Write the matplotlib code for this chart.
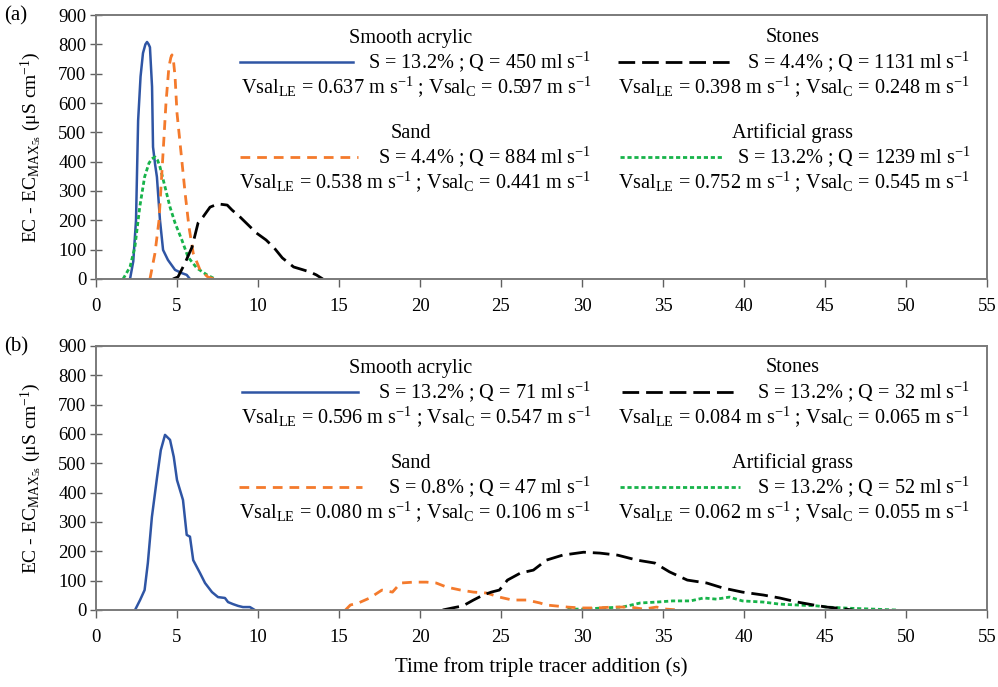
import numpy as np
import matplotlib
matplotlib.use("Agg")
import matplotlib.pyplot as plt
from matplotlib.lines import Line2D

plt.rcParams['font.family'] = ['Liberation Serif', 'DejaVu Serif']
plt.rcParams['mathtext.fontset'] = 'custom'
plt.rcParams['mathtext.rm'] = 'Liberation Serif'
plt.rcParams['mathtext.it'] = 'Liberation Serif:italic'
plt.rcParams['mathtext.bf'] = 'Liberation Serif:bold'

# ---- data ----
# panel (a)
a_acr_t = [2.1, 2.3, 2.47, 2.6, 2.75, 2.9, 3.05, 3.15, 3.25, 3.33, 3.46, 3.52, 3.65, 3.76, 3.95,
           4.14, 4.44, 4.88, 5.3, 5.6, 5.8]
a_acr_y = [0, 60, 200, 540, 690, 770, 800, 808, 800, 790, 655, 450, 390, 348, 200,
           99, 65, 31, 20, 14, 0]
a_sand_t = [3.33, 3.64, 3.89, 4.14, 4.32, 4.5, 4.62, 4.69, 4.78, 4.88, 5.0, 5.25, 5.5, 5.74, 6.0,
            6.42, 6.9, 7.3]
a_sand_y = [0, 88, 200, 430, 600, 723, 755, 764, 745, 690, 566, 430, 293, 177, 88,
            31, 7, 0]
a_grass_t = [1.67, 2.1, 2.4, 2.7, 3.0, 3.27, 3.45, 3.64, 3.8, 3.95, 4.26, 4.57, 4.88, 5.3, 5.68,
             6.23, 6.85, 7.35]
a_grass_y = [0, 41, 109, 245, 348, 395, 410, 416, 405, 382, 314, 245, 191, 133, 75,
             37, 14, 0]
a_ston_t = [4.75, 5.06, 5.5, 5.93, 6.3, 6.6, 7.04, 7.53, 8.1, 8.4, 8.9, 9.4, 9.9, 10.5, 11.0, 11.5,
            12.2, 12.8, 13.2, 13.6, 14.0]
a_ston_y = [0, 7, 55, 109, 191, 211, 245, 256, 252, 235, 211, 184, 157, 133, 106, 72,
            41, 31, 24, 14, 0]

# panel (b)
b_acr_t = [2.41, 2.72, 3.0, 3.2, 3.45, 3.77, 4.0, 4.26, 4.57, 4.8, 5.0, 5.37, 5.6, 5.8, 6.0, 6.42,
           6.73, 7.16, 7.53, 7.96, 8.15, 8.46, 8.77, 9.07, 9.5, 9.8]
b_acr_y = [0, 34, 68, 160, 317, 453, 545, 597, 580, 522, 443, 375, 256, 250, 170, 126,
           92, 61, 44, 41, 27, 20, 14, 10, 10, 0]
b_sand_t = [15.4, 15.7, 16.2, 16.9, 17.65, 18.3, 18.8, 19.6, 20.4, 21.0, 21.65, 22.5, 23.3, 24.1,
            24.9, 25.7, 26.6, 27.4, 27.8, 29.1, 29.9, 30.9, 31.9, 33.0, 33.8, 34.6, 35.2, 36.0]
b_sand_y = [0, 17, 24, 41, 68, 61, 92, 95, 95, 92, 78, 68, 61, 58,
            44, 34, 34, 24, 17, 10, 7, 7, 10, 10, 3, 10, 3, 0]
b_ston_t = [21.4, 22.0, 22.65, 23.3, 23.9, 24.4, 24.9, 25.4, 26.2, 27.0, 27.8, 28.8, 30.1, 31.1,
            32.2, 33.4, 34.5, 35.4, 36.5, 37.7, 38.7, 39.9, 41.2, 42.2, 43.3, 44.3, 45.1, 46.0, 46.7]
b_ston_y = [0, 7, 14, 34, 51, 61, 68, 102, 126, 136, 170, 187, 197, 194,
            187, 170, 160, 130, 102, 92, 75, 61, 51, 41, 27, 17, 10, 5, 0]
b_grass_t = [29.1, 30.1, 31.3, 32.5, 33.6, 34.6, 35.6, 36.7, 37.5, 38.3, 39.1, 39.9, 41.2, 42.2,
             43.3, 44.5, 45.1, 46.5, 48.0, 49.4]
b_grass_y = [3, 3, 7, 10, 24, 27, 31, 31, 41, 37, 44, 31, 27, 20,
             17, 14, 10, 6, 3, 0]

legend_a = [
    ("Smooth acrylic", "S = 13.2% ; Q = 450 ml s$^{\\mathrm{-1}}$", "0.637", "0.597"),
    ("Stones", "S = 4.4% ; Q = 1131 ml s$^{\\mathrm{-1}}$", "0.398", "0.248"),
    ("Sand", "S = 4.4% ; Q = 884 ml s$^{\\mathrm{-1}}$", "0.538", "0.441"),
    ("Artificial grass", "S = 13.2% ; Q = 1239 ml s$^{\\mathrm{-1}}$", "0.752", "0.545"),
]
legend_b = [
    ("Smooth acrylic", "S = 13.2% ; Q = 71 ml s$^{\\mathrm{-1}}$", "0.596", "0.547"),
    ("Stones", "S = 13.2% ; Q = 32 ml s$^{\\mathrm{-1}}$", "0.084", "0.065"),
    ("Sand", "S = 0.8% ; Q = 47 ml s$^{\\mathrm{-1}}$", "0.080", "0.106"),
    ("Artificial grass", "S = 13.2% ; Q = 52 ml s$^{\\mathrm{-1}}$", "0.062", "0.055"),
]

c_acr = '#2f55a4'
c_sand = '#f47a2c'
c_grass = '#17b34a'
c_ston = 'black'
styles = {
    'acr': dict(color=c_acr, lw=1.8, ls='-'),
    'ston': dict(color=c_ston, lw=2.0, ls=(0, (6, 2.5))),
    'sand': dict(color=c_sand, lw=2.0, ls=(0, (3.5, 2.5))),
    'grass': dict(color=c_grass, lw=2.0, ls=(0, (1.5, 1))),
}
order = ['acr', 'ston', 'sand', 'grass']

W, H = 998, 687
fig = plt.figure(figsize=(W / 100, H / 100), dpi=100)

def fx(x):
    return x / W

def fy(y):
    return 1 - y / H

ax1 = fig.add_axes([fx(96), fy(279), fx(987) - fx(96), fy(15) - fy(279)])
ax2 = fig.add_axes([fx(96), fy(610), fx(987) - fx(96), fy(346) - fy(610)])

ax1.plot(a_acr_t, a_acr_y, **styles['acr'])
ax1.plot(a_grass_t, a_grass_y, **styles['grass'])
ax1.plot(a_sand_t, a_sand_y, **styles['sand'])
ax1.plot(a_ston_t, a_ston_y, **styles['ston'])

ax2.plot(b_acr_t, b_acr_y, **styles['acr'])
ax2.plot(b_grass_t, b_grass_y, **styles['grass'])
ax2.plot(b_sand_t, b_sand_y, **styles['sand'])
ax2.plot(b_ston_t, b_ston_y, **styles['ston'])

ylab = r'EC - EC$_{\mathrm{MAX}_{\mathrm{5s}}}$ ($\mathrm{\mu}$S cm$^{\mathrm{-1}}$)'
for ax in (ax1, ax2):
    ax.set_xlim(0, 55)
    ax.set_ylim(0, 900)
    ax.set_xticks(np.arange(0, 56, 5))
    ax.set_yticks(np.arange(0, 901, 100))
    ax.tick_params(axis='x', direction='out', length=6, width=1, color='#606060', labelsize=13.5, pad=8)
    ax.tick_params(axis='y', direction='inout', length=8, width=1, color='#606060', labelsize=13.5, pad=3)
    for s in ax.spines.values():
        s.set_color('#7a7a7a')
        s.set_linewidth(1.4)
    ax.set_ylabel(ylab, fontsize=14)
    ax.yaxis.set_label_coords(-0.058, 0.5)

fig.text(fx(4), fy(16), '(a)', fontsize=15, va='center', ha='left')
fig.text(fx(4), fy(347), '(b)', fontsize=15, va='center', ha='left')
ax2.set_xlabel('Time from triple tracer addition (s)', fontsize=15, labelpad=8)

def draw_legend(entries, y0, line_x):
    # entries in order: acrylic, stones, sand, grass
    col_center = [411, 793]
    col_right = [591, 970]
    for i, (title, sq, le, cc) in enumerate(entries):
        col = i % 2
        row = i // 2
        yt = y0 + row * 95
        fig.text(fx(col_center[col]), fy(yt), title, fontsize=14.6, ha='center', va='center')
        fig.add_artist(Line2D([fx(line_x[i][0]), fx(line_x[i][1])], [fy(yt + 24), fy(yt + 24)],
                              transform=fig.transFigure, **styles[order[i]]))
        fig.text(fx(col_right[col]), fy(yt + 24), sq, fontsize=14.6, ha='right', va='center')
        vs = ('Vsal$_{\\mathrm{LE}}$ = ' + le + ' m s$^{\\mathrm{-1}}$ ; Vsal$_{\\mathrm{C}}$ = '
              + cc + ' m s$^{\\mathrm{-1}}$')
        fig.text(fx(col_right[col]), fy(yt + 49), vs, fontsize=14.6, ha='right', va='center')

draw_legend(legend_a, 38, [(240, 353), (618, 731), (240, 358), (620, 722)])
draw_legend(legend_b, 368, [(242, 358), (622, 737), (239, 362), (620, 740)])

fig.savefig('out.png', dpi=100)
